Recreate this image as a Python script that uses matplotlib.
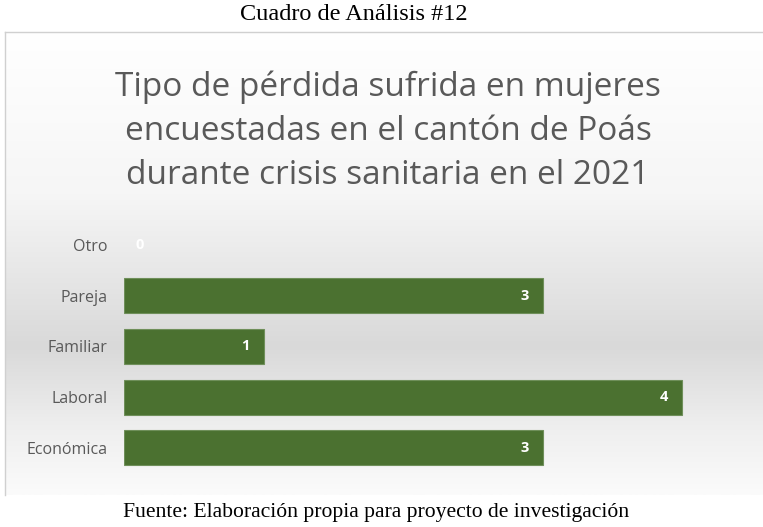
#!/usr/bin/env python3
"""Tipo de pérdida sufrida - barras horizontales."""

import numpy as np
import matplotlib
matplotlib.use('Agg')
import matplotlib.pyplot as plt
from matplotlib.colors import LinearSegmentedColormap

# Datos (de abajo hacia arriba)
categorias = ['Económica', 'Laboral', 'Familiar', 'Pareja', 'Otro']
valores = [3, 4, 1, 3, 0]

titulo = ('Tipo de pérdida sufrida en mujeres\n'
          'encuestadas en el cantón de Poás\n'
          'durante crisis sanitaria en el 2021')
encabezado = 'Cuadro de Análisis #12'
fuente = 'Fuente: Elaboración propia para proyecto de investigación'

W, H = 763, 527
fig = plt.figure(figsize=(W / 100, H / 100), dpi=100)
fig.patch.set_facecolor('white')

# fondo degradado del cuadro del gráfico
bg = fig.add_axes([5 / W, 1 - 495 / H, 1 - 5 / W, (495 - 32) / H])
cmap = LinearSegmentedColormap.from_list(
    'fondo', [(0.0, '#ffffff'), (0.35, '#f6f6f6'), (0.68, '#d9d9d9'),
              (0.85, '#eeeeee'), (1.0, '#fbfbfb')])
grad = np.linspace(0, 1, 256).reshape(-1, 1)
bg.imshow(grad, aspect='auto', cmap=cmap, extent=[0, 1, 1, 0])
bg.set_xticks([])
bg.set_yticks([])
for s in ['right', 'bottom']:
    bg.spines[s].set_visible(False)
for s in ['left', 'top']:
    bg.spines[s].set_color('#d0d0d0')
    bg.spines[s].set_linewidth(1.0)

# ejes de las barras
x0 = 124
unit = 139.5
xmax = 4.5
y_top, y_bot = 209.5, 483.5
ax = fig.add_axes([x0 / W, 1 - y_bot / H, xmax * unit / W, (y_bot - y_top) / H])
ax.set_facecolor('none')
y = np.arange(len(categorias))
anchos = [0.8 if v > 0 else 0 for v in valores]
ax.barh(y, valores, height=0.69, color='#4b7130',
        edgecolor='#6f8f5a', linewidth=anchos, zorder=3)
ax.set_xlim(0, xmax)
ax.set_ylim(-0.7, len(categorias) - 0.3)
ax.set_yticks(y)
ax.set_yticklabels(categorias, fontsize=11.5, color='#595959', family='Open Sans')
ax.tick_params(axis='y', length=0, pad=12)
ax.set_xticks([])
for s in ax.spines.values():
    s.set_visible(False)

for yi, v in zip(y, valores):
    off = 16 if v == 0 else -18
    ax.annotate(str(v), xy=(v, yi), xytext=(off, 0), textcoords='offset pixels',
                ha='center', va='center', color='white', fontsize=10.5,
                fontweight='bold', family='Open Sans', zorder=4)

fig.text(388 / W, 1 - 131 / H, titulo, ha='center', va='center',
         fontsize=24, color='#595959', family='Open Sans', linespacing=1.45)
fig.text(354 / W, 1 - 15 / H, encabezado, ha='center', va='center',
         fontsize=17.5, color='black', family='Liberation Serif')
fig.text(376 / W, 1 - 512 / H, fuente, ha='center', va='center',
         fontsize=15.6, color='black', family='Liberation Serif')

fig.savefig('out.png', dpi=100)
